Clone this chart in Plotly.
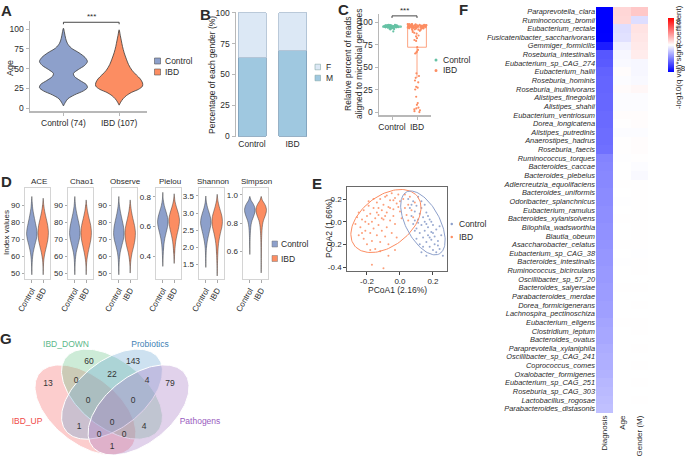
import numpy as np
import plotly.graph_objects as go

W, H = 685, 460
FONT = "Liberation Sans"
TXT = "#2b2b2b"
AX = "#b8b8b8"
CTRL_V = "#8DA0CB"
IBD_V = "#FC8D62"
C_GREEN = "#66C2A5"
C_ORANGE = "#FC8D62"


def fx(p):
    return p / W


def fy(p):
    return 1 - p / H


def xdom(a, b):
    return [a / W, b / W]


def ydom(t, b):
    return [1 - b / H, 1 - t / H]


# ======================= DATA =======================
# --- Panel A: age violins (profile: age level, half width) + box stats
a_ticklabels = ["Control (74)", "IBD (107)"]
a_ctrl_age = [101, 95, 88, 82, 76, 70, 64, 59, 54, 49, 44, 40, 35, 30, 26, 22, 17, 12, 7, 3]
a_ctrl_w = [0, 0.02, 0.04, 0.07, 0.14, 0.28, 0.39, 0.43, 0.38, 0.27, 0.18, 0.2, 0.3, 0.41, 0.43, 0.36, 0.2, 0.08, 0.03, 0]
a_ibd_age = [99, 92, 85, 78, 70, 62, 55, 48, 42, 37, 32, 28, 24, 20, 16, 12, 8, 4]
a_ibd_w = [0, 0.02, 0.04, 0.06, 0.09, 0.13, 0.17, 0.23, 0.31, 0.38, 0.42, 0.42, 0.35, 0.22, 0.13, 0.07, 0.03, 0]
a_ctrl_box = [29, 58, 67, 23, 82]   # q1, median, q3, lower, upper
a_ibd_box = [28, 36, 50, 17, 84]

# --- Panel B: gender percentages
b_groups = ["Control", "IBD"]
b_male = [63.5, 69.5]
b_female = [36.5, 30.5]

# --- Panel C: relative percent of reads aligned
c_groups = ["Control", "IBD"]
c_ctrl = [95.5, 94.8, 96.1, 93.9, 95.2, 94.4, 96.5, 95.8, 93.5, 94.9, 95.6, 96.8, 94.1, 95.0,
          92.8, 95.9, 94.6, 96.3, 93.2, 95.3, 94.7, 96.0, 95.4, 93.7, 94.3, 96.6, 95.1, 94.0,
          92.5, 95.7, 94.5, 96.2, 93.4, 95.5, 94.2, 96.9, 91.8, 95.2, 94.8, 93.0, 96.4, 95.0,
          89.5, 94.4, 95.6, 93.8, 96.1, 94.9, 95.3, 92.2]
c_ibd = [43, 40, 38, 35, 33, 28, 27, 25, 17, 10, 8, 5, 4, 3, 2, 1, 0,
         65, 66, 67, 69, 72,
         79, 80, 82, 84, 85, 87, 88, 89,
         95.4, 90.2, 96.8, 93.1, 97.2, 94.6, 91.5, 96.1, 95.0, 92.7, 97.5, 94.2, 96.4, 93.8,
         95.7, 90.9, 96.9, 94.9, 92.2, 97.0, 95.2, 93.5, 96.6, 94.4, 91.9, 97.3, 95.9, 93.0,
         96.2, 94.0, 95.5, 92.5, 97.6, 94.7, 96.0, 93.3, 95.1, 96.7, 91.2, 94.8, 97.1, 95.8,
         93.7, 96.3, 94.3, 95.3, 92.9, 97.4, 96.5, 94.1, 95.6, 93.9, 96.0, 95.0, 94.5, 97.8]

# --- Panel D: alpha diversity violins
d_metrics = ["ACE", "Chao1", "Observe", "Pielou", "Shannon", "Simpson"]
d_ctrl_vals = [
    [49, 54, 58, 62, 66, 70, 73, 76, 80, 84, 88, 92, 95],
    [49, 54, 58, 62, 66, 70, 73, 77, 81, 85, 89, 93, 95],
    [49, 54, 58, 62, 66, 70, 73, 77, 81, 85, 89, 92, 95],
    [0.33, 0.38, 0.43, 0.48, 0.52, 0.56, 0.6, 0.63, 0.66, 0.7, 0.74, 0.78, 0.83],
    [1.4, 1.7, 1.95, 2.15, 2.35, 2.55, 2.7, 2.85, 3.0, 3.15, 3.3, 3.5],
    [0.58, 0.64, 0.7, 0.75, 0.79, 0.82, 0.85, 0.88, 0.9, 0.92, 0.94, 0.96, 0.99],
]
d_ctrl_w = [
    [0, 0.02, 0.05, 0.12, 0.25, 0.4, 0.46, 0.42, 0.3, 0.18, 0.08, 0.03, 0],
    [0, 0.02, 0.05, 0.12, 0.26, 0.4, 0.46, 0.42, 0.3, 0.17, 0.07, 0.02, 0],
    [0, 0.02, 0.05, 0.12, 0.26, 0.41, 0.46, 0.42, 0.3, 0.17, 0.07, 0.02, 0],
    [0, 0.02, 0.05, 0.1, 0.18, 0.3, 0.42, 0.46, 0.42, 0.28, 0.13, 0.04, 0],
    [0, 0.02, 0.05, 0.12, 0.24, 0.38, 0.46, 0.42, 0.3, 0.16, 0.06, 0],
    [0, 0.01, 0.03, 0.06, 0.11, 0.2, 0.34, 0.45, 0.46, 0.4, 0.28, 0.12, 0],
]
d_ibd_vals = [
    [49, 54, 58, 62, 66, 70, 74, 78, 82, 86, 90, 94],
    [49, 54, 58, 62, 66, 70, 74, 78, 82, 86, 90, 93],
    [50, 54, 58, 62, 66, 70, 74, 78, 82, 86, 90, 93],
    [0.35, 0.4, 0.45, 0.5, 0.54, 0.58, 0.62, 0.65, 0.69, 0.73, 0.77, 0.82],
    [1.15, 1.45, 1.75, 2.0, 2.2, 2.4, 2.6, 2.75, 2.9, 3.05, 3.2, 3.35, 3.55],
    [0.45, 0.55, 0.63, 0.7, 0.75, 0.79, 0.82, 0.85, 0.88, 0.9, 0.92, 0.94, 0.96, 0.99],
]
d_ibd_w = [
    [0, 0.02, 0.06, 0.16, 0.3, 0.42, 0.46, 0.4, 0.27, 0.14, 0.05, 0],
    [0, 0.02, 0.07, 0.17, 0.3, 0.42, 0.46, 0.4, 0.26, 0.13, 0.04, 0],
    [0, 0.02, 0.07, 0.17, 0.32, 0.43, 0.46, 0.38, 0.24, 0.12, 0.04, 0],
    [0, 0.03, 0.07, 0.14, 0.24, 0.36, 0.45, 0.46, 0.36, 0.2, 0.07, 0],
    [0, 0.02, 0.05, 0.09, 0.16, 0.28, 0.42, 0.46, 0.42, 0.3, 0.17, 0.07, 0],
    [0, 0.01, 0.02, 0.04, 0.07, 0.12, 0.2, 0.34, 0.45, 0.46, 0.4, 0.28, 0.12, 0],
]
d_ctrl_box = [[70, 73.5, 77.5, 60, 88], [70, 73.5, 78, 60, 88], [70, 73.5, 77.5, 60, 88],
              [0.56, 0.62, 0.66, 0.44, 0.76], [2.45, 2.68, 2.88, 2.0, 3.3], [0.86, 0.89, 0.91, 0.79, 0.97]]
d_ibd_box = [[68, 74, 78.5, 58, 90], [68, 74, 79, 58, 90], [67.5, 73.5, 78, 57, 89],
             [0.55, 0.62, 0.67, 0.42, 0.78], [2.4, 2.7, 2.92, 1.8, 3.35], [0.855, 0.89, 0.915, 0.78, 0.97]]
d_ticks = [[50, 60, 70, 80, 90], [50, 60, 70, 80, 90], [50, 60, 70, 80, 90],
           [0.4, 0.6, 0.8], [1.5, 2.0, 2.5, 3.0, 3.5], [0.6, 0.8, 1.0]]
d_ticktext = [["50", "60", "70", "80", "90"]] * 3 + [["0.4", "0.6", "0.8"],
                                                   ["1.5", "2.0", "2.5", "3.0", "3.5"],
                                                   ["0.6", "0.8", "1.0"]]

# --- Panel E: PCoA
e_ibd_x = [-0.27, -0.25, -0.25, -0.24, -0.23, -0.22, -0.22, -0.21, -0.20, -0.20, -0.19, -0.19, -0.18, -0.18,
           -0.17, -0.17, -0.16, -0.16, -0.15, -0.15, -0.14, -0.14, -0.13, -0.13, -0.12, -0.12, -0.11, -0.11,
           -0.10, -0.10, -0.09, -0.09, -0.08, -0.08, -0.07, -0.07, -0.06, -0.06, -0.05, -0.05, -0.04, -0.04,
           -0.03, -0.03, -0.02, -0.02, -0.01, 0.00, 0.00, 0.01, 0.02, 0.03, 0.04, 0.05, 0.06, 0.07, 0.08,
           0.09, -0.23, -0.21, -0.13, -0.11, -0.09, -0.06, -0.04, -0.16, -0.01, 0.03, -0.08, -0.18, -0.12,
           -0.17, -0.10, -0.07, -0.03, -0.14, -0.19, 0.05, -0.26]
e_ibd_y = [-0.02, 0.08, -0.12, -0.05, 0.02, -0.15, 0.10, -0.08, 0.05, -0.20, -0.02, 0.14, -0.10, 0.07,
           -0.17, 0.00, 0.12, -0.06, 0.03, -0.24, 0.17, -0.12, 0.06, -0.03, 0.20, -0.18, 0.10, -0.08,
           0.02, 0.15, -0.13, 0.22, 0.08, -0.05, 0.13, -0.20, 0.19, 0.01, 0.25, -0.10, 0.11, 0.05,
           0.21, -0.02, 0.16, -0.14, 0.24, 0.09, 0.18, 0.03, 0.20, 0.12, 0.06, 0.15, 0.22, 0.10, 0.04,
           0.17, -0.10, 0.00, 0.12, 0.03, 0.05, 0.12, 0.19, 0.20, 0.13, 0.24, 0.23, -0.25, -0.26,
           -0.38, -0.41, -0.30, -0.25, 0.08, 0.18, 0.01, 0.04]
e_ctrl_x = [0.05, 0.06, 0.07, 0.08, 0.08, 0.09, 0.10, 0.10, 0.11, 0.11, 0.12, 0.12, 0.13, 0.13, 0.14,
            0.14, 0.15, 0.15, 0.16, 0.16, 0.17, 0.17, 0.18, 0.18, 0.19, 0.19, 0.20, 0.20, 0.21, 0.21,
            0.22, 0.23, 0.24, 0.25, 0.26, 0.12, 0.13, 0.10, 0.09, 0.15, 0.17, 0.11, 0.14, 0.16, 0.18,
            0.22, 0.07, 0.09, 0.20, 0.24, 0.19, 0.13, 0.23, 0.16]
e_ctrl_y = [0.20, 0.12, 0.05, 0.18, -0.02, 0.09, 0.14, -0.06, 0.02, 0.22, -0.10, 0.07, -0.03, 0.12, -0.14,
            0.04, -0.08, 0.00, -0.18, 0.08, -0.05, -0.12, -0.22, 0.02, -0.09, -0.16, -0.03, -0.25, -0.13, -0.20,
            -0.07, -0.17, -0.24, -0.12, -0.30, -0.20, -0.27, -0.15, 0.01, 0.15, 0.05, -0.01, -0.22, -0.02, -0.14,
            -0.27, 0.15, -0.08, -0.10, -0.04, 0.00, 0.18, -0.21, -0.30]
# stat ellipses: centre x, centre y, conjugate semi-axis vectors (ux, uy), (vx, vy)
e_ell_ibd = [-0.085, 0.006, 0.191, 0.217, 0.0933, -0.174]
e_ell_ctrl = [0.139, -0.011, 0.0995, -0.273, 0.091, 0.070]

# --- Panel F: heatmap
f_species = ["Paraprevotella_clara", "Ruminococcus_bromii", "Eubacterium_rectale",
             "Fusicatenibacter_saccharivorans", "Gemmiger_formicilis", "Roseburia_intestinalis",
             "Eubacterium_sp_CAG_274", "Eubacterium_hallii", "Roseburia_hominis", "Roseburia_inulinivorans",
             "Alistipes_finegoldii", "Alistipes_shahii", "Eubacterium_ventriosum", "Dorea_longicatena",
             "Alistipes_putredinis", "Anaerostipes_hadrus", "Roseburia_faecis", "Ruminococcus_torques",
             "Bacteroides_caccae", "Bacteroides_plebeius", "Adlercreutzia_equolifaciens",
             "Bacteroides_uniformis", "Odoribacter_splanchnicus", "Eubacterium_ramulus",
             "Bacteroides_xylanisolvens", "Bilophila_wadsworthia", "Blautia_obeum",
             "Asaccharobacter_celatus", "Eubacterium_sp_CAG_38", "Bacteroides_intestinalis",
             "Ruminococcus_bicirculans", "Oscillibacter_sp_57_20", "Bacteroides_salyersiae",
             "Parabacteroides_merdae", "Dorea_formicigenerans", "Lachnospira_pectinoschiza",
             "Eubacterium_eligens", "Clostridium_leptum", "Bacteroides_ovatus",
             "Paraprevotella_xylaniphila", "Oscillibacter_sp_CAG_241", "Coprococcus_comes",
             "Oxalobacter_formigenes", "Eubacterium_sp_CAG_251", "Roseburia_sp_CAG_303",
             "Lactobacillus_rogosae", "Parabacteroides_distasonis"]
f_columns = ["Diagnosis", "Age", "Gender (M)"]
f_diagnosis = [-9.6, -9.5, -9.3, -9.2, -8.2, -6.1, -6.0, -5.7, -5.6, -5.6, -5.5, -5.5, -5.4, -5.4,
               -5.3, -5.3, -5.2, -4.5, -4.4, -4.3, -4.3, -4.2, -4.2, -4.1, -4.1, -4.0, -4.0, -3.9,
               -3.8, -3.8, -3.7, -3.7, -3.6, -3.6, -3.5, -3.5, -3.3, -3.2, -3.2, -3.0, -2.9, -2.9,
               -2.8, -2.6, -2.5, -2.4, -2.3]
f_age = [1.5, 1.4, -1.2, -1.1, -0.5, -0.3, -0.2, 0.1, -0.1, 0.15, -0.1, -0.1, 0.1, 0.05, -0.1, 0.05,
         0.05, -0.05, 0.0, 0.0, 0.03, 0.0, -0.03, 0.0, 0.02, 0.0, 0.0, 0.02, 0.0, -0.02, 0.0, 0.0,
         0.02, 0.0, 0.0, 0.0, 0.02, 0.0, 0.0, 0.0, 0.0, 0.0, 0.0, 0.0, 0.0, 0.0, 0.0]
f_gender = [2.0, -1.2, 1.0, 0.9, 0.8, 0.7, -0.3, -0.3, -0.2, 0.3, -0.1, -0.1, 0.1, 0.1, -0.1, 0.1,
            0.1, 0.05, -0.1, -0.2, 0.05, 0.05, 0.03, 0.05, 0.03, 0.03, 0.03, 0.03, -0.03, 0.03, 0.03,
            0.0, 0.03, 0.0, 0.03, 0.0, 0.02, 0.03, 0.0, 0.03, 0.0, 0.02, 0.0, 0.02, 0.0, 0.02, 0.0]

# --- Panel G: Venn
g_sets = ["IBD_UP", "IBD_DOWN", "Probiotics", "Pathogens"]
g_counts = [13, 60, 143, 79, 0, 22, 4, 0, 0, 1, 0, 4, 0, 0, 1]

# ======================= FIGURE =======================
fig = go.Figure()
axes = {}
shapes = []
annotations = []


def add_axes(i, xdomain, xrange, ydomain, yrange, xkw=None, ykw=None):
    xn = "xaxis" if i == 1 else f"xaxis{i}"
    yn = "yaxis" if i == 1 else f"yaxis{i}"
    xr = "x" if i == 1 else f"x{i}"
    yr = "y" if i == 1 else f"y{i}"
    base = dict(showgrid=False, zeroline=False, fixedrange=True, showline=False, automargin=False,
                ticks="", showticklabels=False)
    xa = dict(base, domain=xdomain, range=xrange, anchor=yr)
    xa.update(xkw or {})
    ya = dict(base, domain=ydomain, range=yrange, anchor=xr)
    ya.update(ykw or {})
    axes[xn] = xa
    axes[yn] = ya
    return xr, yr


def ann(x, y, text, size=8.5, color=TXT, xanchor="center", yanchor="middle", angle=0):
    annotations.append(dict(x=fx(x), y=fy(y), xref="paper", yref="paper", text=text,
                            showarrow=False, xanchor=xanchor, yanchor=yanchor, textangle=angle,
                            font=dict(family=FONT, size=size, color=color)))


def violin(center, vals, widths, color, xr, yr, lw=0.8):
    xs = [center + w for w in widths] + [center - w for w in reversed(widths)]
    ys = list(vals) + list(reversed(vals))
    fig.add_trace(go.Scatter(x=xs, y=ys, mode="lines", fill="toself", fillcolor=color,
                             line=dict(color="#3a3a3a", width=lw, shape="spline", smoothing=0.8),
                             xaxis=xr, yaxis=yr, hoverinfo="skip"))


def box(center, stats, xr, yr, width, lw=0.9):
    q1, med, q3, lo, hi = stats
    fig.add_trace(go.Box(x=[center], q1=[q1], median=[med], q3=[q3], lowerfence=[lo],
                         upperfence=[hi], width=width, fillcolor="white", whiskerwidth=0,
                         line=dict(color="#222222", width=lw), boxpoints=False,
                         xaxis=xr, yaxis=yr, hoverinfo="skip"))


gg = dict(showline=True, linecolor=AX, linewidth=1.5, ticks="outside", ticklen=3, tickcolor=AX,
          tickwidth=1, showticklabels=True, tickfont=dict(family=FONT, size=8.5, color=TXT))

# ---------- Panel A ----------
xa, ya = add_axes(1, xdom(30, 147), [0.4, 2.5], ydom(21, 111), [-3.4, 110.1],
                  xkw=dict(gg, tickvals=[1, 2], ticktext=a_ticklabels),
                  ykw=dict(gg, tickvals=[0, 25, 50, 75, 100]))
violin(1, a_ctrl_age, a_ctrl_w, CTRL_V, xa, ya)
violin(2, a_ibd_age, a_ibd_w, IBD_V, xa, ya)
box(1, a_ctrl_box, xa, ya, 0.22)
box(2, a_ibd_box, xa, ya, 0.22)
shapes.append(dict(type="path", xref=xa, yref=ya, path="M1,106 L1,108.5 L2,108.5 L2,106",
                   line=dict(color="#333", width=0.9)))
ann(91, 16, "***", size=8)
ann(10, 68, "Age", size=9, angle=-90)
ann(6, 11, "<b>A</b>", size=15)
for i, (lab, col) in enumerate([("Control", CTRL_V), ("IBD", IBD_V)]):
    yy = 61 + 11 * i
    shapes.append(dict(type="rect", xref="paper", yref="paper", x0=fx(154.5), x1=fx(160.5),
                       y0=fy(yy + 3), y1=fy(yy - 3), fillcolor=col, line=dict(color="#555", width=0.6)))
    ann(163, yy, lab, xanchor="left")

# ---------- Panel B ----------
xb, yb = add_axes(2, xdom(236, 308), [-0.395, 1.38], ydom(12, 137), [-0.8, 100.8],
                  xkw=dict(showticklabels=True, tickvals=[0, 1], ticktext=b_groups,
                           tickfont=dict(family=FONT, size=8.5, color=TXT)),
                  ykw=dict(gg, tickvals=[0, 25, 50, 75, 100]))
fig.add_trace(go.Bar(x=[0, 1], y=b_male, width=0.69, marker=dict(color="#9FC8E0",
              line=dict(color="#7d9db8", width=0.8)), xaxis=xb, yaxis=yb, hoverinfo="skip"))
fig.add_trace(go.Bar(x=[0, 1], y=b_female, width=0.69, marker=dict(color="#DCE8F5",
              line=dict(color="#a9bccf", width=0.8)), xaxis=xb, yaxis=yb, hoverinfo="skip"))
ann(212, 75, "Percentage of each gender (%)", size=8.5, angle=-90)
ann(205, 14, "<b>B</b>", size=15)
for i, (lab, col) in enumerate([("F", "#DCE8F5"), ("M", "#9FC8E0")]):
    yy = 67 + 11 * i
    shapes.append(dict(type="rect", xref="paper", yref="paper", x0=fx(315), x1=fx(320.5),
                       y0=fy(yy + 2.8), y1=fy(yy - 2.8), fillcolor=col, line=dict(color="#8aa", width=0.6)))
    ann(324, yy, lab, xanchor="left")

# ---------- Panel C ----------
xc, yc = add_axes(3, xdom(379, 431), [0.48, 2.56], ydom(14, 115), [-3.3, 108.9],
                  xkw=dict(gg, tickvals=[1, 2], ticktext=c_groups),
                  ykw=dict(gg, tickvals=[0, 25, 50, 75, 100]))
fig.add_trace(go.Box(y=c_ctrl, x0=1, width=0.75, boxpoints="all", jitter=1, pointpos=0,
                     fillcolor="rgba(0,0,0,0)", line=dict(color=C_GREEN, width=0.8), whiskerwidth=0,
                     marker=dict(color=C_GREEN, size=2.2), xaxis=xc, yaxis=yc, hoverinfo="skip"))
fig.add_trace(go.Box(y=c_ibd, x0=2, width=0.75, boxpoints="all", jitter=1, pointpos=0,
                     fillcolor="rgba(0,0,0,0)", line=dict(color=C_ORANGE, width=0.8), whiskerwidth=0,
                     marker=dict(color=C_ORANGE, size=2.2), xaxis=xc, yaxis=yc, hoverinfo="skip"))
shapes.append(dict(type="path", xref=xc, yref=yc, path="M1,104.5 L1,106.8 L2,106.8 L2,104.5",
                   line=dict(color="#333", width=0.9)))
ann(404, 11, "***", size=8)
ann(354, 64, "Relative percent of reads<br>aligned to microbial genomes", size=8.5, angle=-90)
ann(343, 10, "<b>C</b>", size=15)
for i, (lab, col) in enumerate([("Control", C_GREEN), ("IBD", C_ORANGE)]):
    yy = 60 + 10.5 * i
    shapes.append(dict(type="circle", xref="paper", yref="paper", x0=fx(434.5), x1=fx(437.5),
                       y0=fy(yy + 1.5), y1=fy(yy - 1.5), fillcolor=col, line=dict(width=0)))
    ann(441, yy, lab, xanchor="left")

# ---------- Panel D ----------
d_xpix = [(25, 50), (68, 93), (112, 137), (156, 181), (199, 224), (243, 268)]
d_ranges = [[46.5, 100], [46.5, 100], [46.5, 100], [0.245, 0.859], [1.06, 3.735], [0.407, 1.049]]
dax = dict(showline=True, mirror=True, linecolor="#d4d4d4", linewidth=1, ticks="outside", ticklen=2.5,
           tickcolor="#aaaaaa", showticklabels=True, tickfont=dict(family=FONT, size=8, color=TXT))
for k in range(6):
    x0p, x1p = d_xpix[k]
    xr_, yr_ = add_axes(4 + k, xdom(x0p, x1p), [0.4, 2.6], ydom(188, 279), d_ranges[k],
                        xkw=dict(dax, tickvals=[1, 2], ticktext=["Control", "IBD"], tickangle=-60),
                        ykw=dict(dax, tickvals=d_ticks[k], ticktext=d_ticktext[k]))
    violin(1, d_ctrl_vals[k], d_ctrl_w[k], CTRL_V, xr_, yr_, lw=0.5)
    violin(2, d_ibd_vals[k], d_ibd_w[k], IBD_V, xr_, yr_, lw=0.5)
    box(1, d_ctrl_box[k], xr_, yr_, 0.28, lw=0.6)
    box(2, d_ibd_box[k], xr_, yr_, 0.28, lw=0.6)
    ann((x0p + x1p) / 2 + 1, 182, d_metrics[k], size=8)
ann(7, 233, "Index values", size=8, angle=-90)
ann(6, 181, "<b>D</b>", size=15)
for i, (lab, col) in enumerate([("Control", CTRL_V), ("IBD", IBD_V)]):
    yy = 244 + 14.5 * i
    shapes.append(dict(type="rect", xref="paper", yref="paper", x0=fx(272), x1=fx(277.5),
                       y0=fy(yy + 3), y1=fy(yy - 3), fillcolor=col, line=dict(color="#777", width=0.5)))
    ann(278.5, yy, lab, xanchor="left")

# ---------- Panel E ----------
eax = dict(showline=True, mirror=True, linecolor="#444", linewidth=0.8, ticks="outside", ticklen=3,
           tickcolor="#444", showticklabels=True, tickfont=dict(family=FONT, size=8, color=TXT))
xe, ye = add_axes(10, xdom(347, 447), [-0.321, 0.285], ydom(187, 271), [-0.435, 0.306],
                  xkw=dict(eax, tickvals=[-0.2, 0, 0.2], ticktext=["-0.2", "0.0", "0.2"]),
                  ykw=dict(eax, tickvals=[-0.4, -0.2, 0, 0.2], ticktext=["-0.4", "-0.2", "0.0", "0.2"]))
fig.add_trace(go.Scatter(x=e_ibd_x, y=e_ibd_y, mode="markers", marker=dict(color=IBD_V, size=2, opacity=0.85),
                         xaxis=xe, yaxis=ye, hoverinfo="skip"))
fig.add_trace(go.Scatter(x=e_ctrl_x, y=e_ctrl_y, mode="markers", marker=dict(color=CTRL_V, size=2, opacity=0.9),
                         xaxis=xe, yaxis=ye, hoverinfo="skip"))
t = np.linspace(0, 2 * np.pi, 120)
for ell, col in [(e_ell_ibd, IBD_V), (e_ell_ctrl, CTRL_V)]:
    cx, cy, ux, uy, vx, vy = ell
    fig.add_trace(go.Scatter(x=cx + ux * np.cos(t) + vx * np.sin(t), y=cy + uy * np.cos(t) + vy * np.sin(t),
                             mode="lines", line=dict(color=col, width=1), xaxis=xe, yaxis=ye, hoverinfo="skip"))
ann(397, 290, "PCoA1 (2.16%)", size=8.5)
ann(329, 229, "PCoA2 (1.66%)", size=8.5, angle=-90)
ann(317, 183, "<b>E</b>", size=15)
for i, (lab, col) in enumerate([("Control", CTRL_V), ("IBD", IBD_V)]):
    yy = 224 + 13 * i
    shapes.append(dict(type="circle", xref="paper", yref="paper", x0=fx(450.5), x1=fx(453),
                       y0=fy(yy + 1.25), y1=fy(yy - 1.25), fillcolor=col, line=dict(width=0)))
    ann(457, yy, lab, xanchor="left")

# ---------- Panel F ----------
n = len(f_species)
xf, yf = add_axes(11, xdom(596, 648), [-0.5, 2.5], ydom(7, 413), [n - 0.5, -0.5],
                  xkw=dict(showticklabels=True, tickvals=[0, 1, 2], ticktext=f_columns, tickangle=-90,
                           tickfont=dict(family=FONT, size=8, color=TXT)),
                  ykw=dict(showticklabels=True, tickvals=list(range(n)),
                           ticktext=[f"<i>{s}</i>" for s in f_species],
                           tickfont=dict(family=FONT, size=7.4, color=TXT)))
z = [[f_diagnosis[i], f_age[i], f_gender[i]] for i in range(n)]
fig.add_trace(go.Heatmap(z=z, x=[0, 1, 2], y=list(range(n)), xaxis=xf, yaxis=yf,
                         colorscale=[[0, "#0000FF"], [0.5, "#FFFFFF"], [1, "#FF0000"]],
                         zmin=-9.25, zmax=9.25, hoverinfo="skip",
                         colorbar=dict(thickness=6, lenmode="pixels", len=74, x=fx(657.5), xanchor="left",
                                       y=fy(45), yanchor="middle", tickvals=[-8, 0, 8], ticks="",
                                       outlinewidth=0, tickfont=dict(family=FONT, size=8, color=TXT))))
ann(678, 57, "-log10(q val)*sign(coefficient)", size=8, angle=-90)
ann(463, 9, "<b>F</b>", size=15)

# ---------- Panel G ----------
xg, yg = add_axes(12, xdom(0, 230), [0, 230], ydom(340, 460), [460, 340])


def upx(u):
    return 112 + (u - 0.5) * 177


def vpy(v):
    return 455 - (v - 0.185) * 158


venn_geom = [(0.35, 0.47, -45), (0.5, 0.57, -45), (0.5, 0.57, 45), (0.65, 0.47, 45)]
venn_fill = ["rgba(246,112,112,0.35)", "rgba(112,198,141,0.35)", "rgba(112,169,212,0.35)",
             "rgba(169,127,198,0.35)"]
tt = np.linspace(0, 2 * np.pi, 160)
for (cu, cv, rot), col in zip(venn_geom, venn_fill):
    r = np.deg2rad(rot)
    uu = cu + 0.35 * np.cos(tt) * np.cos(r) - 0.2 * np.sin(tt) * np.sin(r)
    vv = cv + 0.35 * np.cos(tt) * np.sin(r) + 0.2 * np.sin(tt) * np.cos(r)
    fig.add_trace(go.Scatter(x=upx(uu), y=vpy(vv), mode="lines", fill="toself", fillcolor=col,
                             line=dict(color="white", width=1), xaxis=xg, yaxis=yg, hoverinfo="skip"))
g_pos_x = [48, 89, 133, 170, 76, 112, 147, 88, 133, 79, 112, 144, 99, 124, 112]
g_pos_y = [384, 362, 362, 384, 381, 375, 381, 401, 401, 427, 423, 427, 435, 435, 447]
fig.add_trace(go.Scatter(x=g_pos_x, y=g_pos_y, mode="text", text=[str(c) for c in g_counts],
                         textfont=dict(family=FONT, size=8.5, color="#333"), xaxis=xg, yaxis=yg,
                         hoverinfo="skip"))
g_lab_x = [27, 66, 150, 200]
g_lab_y = [422, 345, 345, 422]
g_lab_col = ["#F04848", "#5DB88A", "#3F7FB5", "#9A5CC0"]
fig.add_trace(go.Scatter(x=g_lab_x, y=g_lab_y, mode="text", text=g_sets,
                         textfont=dict(family=FONT, size=8.5, color=g_lab_col), xaxis=xg, yaxis=yg,
                         hoverinfo="skip"))
ann(6, 338, "<b>G</b>", size=15)

fig.update_layout(template="none", width=W, height=H, margin=dict(l=0, r=0, t=0, b=0, autoexpand=False),
                  showlegend=False, paper_bgcolor="white", plot_bgcolor="rgba(0,0,0,0)", barmode="stack",
                  font=dict(family=FONT, size=8.5, color=TXT), shapes=shapes, annotations=annotations,
                  **axes)
fig.write_html("out.html", config={"displayModeBar": False, "staticPlot": True},
               post_script="document.body.style.margin='0';document.body.style.padding='0';"
                           "document.body.style.overflow='hidden';")
